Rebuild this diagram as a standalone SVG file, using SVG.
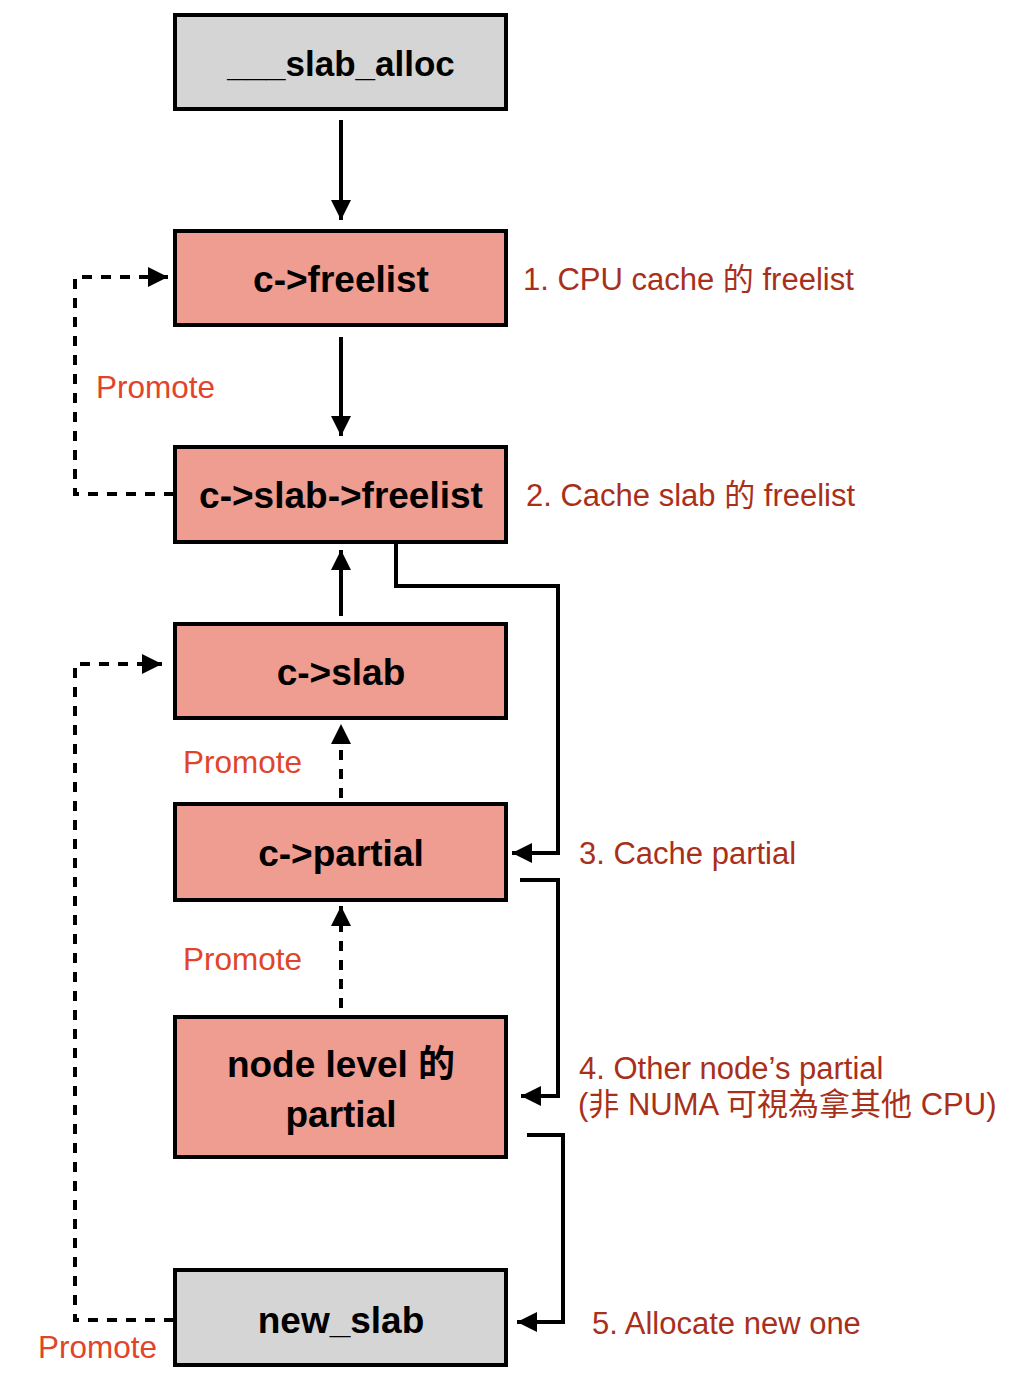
<svg xmlns="http://www.w3.org/2000/svg" width="1010" height="1380" viewBox="0 0 1010 1380">
<style>
.box{stroke:#000;stroke-width:4}
.gray{fill:#d5d5d5}
.red{fill:#ef9c91}
.nt{font-family:"Liberation Sans",Arial,"Noto Sans CJK TC",sans-serif;font-size:37px;font-weight:bold;fill:#000;text-anchor:middle}
.lbl{font-family:"Liberation Sans",Arial,"Noto Sans CJK TC",sans-serif;font-size:31px;fill:#a8301b}
.pr{font-family:"Liberation Sans",Arial,sans-serif;font-size:31.5px;fill:#e0452a}
.ln{fill:none;stroke:#000;stroke-width:4}
.dash{stroke-dasharray:10 9}
</style>
<defs>
<marker id="ah" markerUnits="userSpaceOnUse" markerWidth="21" markerHeight="21" refX="20" refY="10" orient="auto">
<path d="M0,0 L20,10 L0,20 z" fill="#000"/>
</marker>
</defs>
<rect width="1010" height="1380" fill="#fff"/>
<g id="connectors">
<path class="ln" d="M341,120 V220" marker-end="url(#ah)"/>
<path class="ln" d="M341,337 V436" marker-end="url(#ah)"/>
<path class="ln" d="M341,616 V550" marker-end="url(#ah)"/>
<path class="ln" d="M396,544 V586 H558 V853 H512" marker-end="url(#ah)"/>
<path class="ln" d="M520,880 H558 V1096 H521" marker-end="url(#ah)"/>
<path class="ln" d="M527,1135 H563 V1322 H517" marker-end="url(#ah)"/>
<path class="ln dash" d="M174,494 H75 V277 H168" marker-end="url(#ah)"/>
<path class="ln dash" d="M341,798 V724" marker-end="url(#ah)"/>
<path class="ln dash" d="M341,1008 V906" marker-end="url(#ah)"/>
<path class="ln dash" d="M174,1320 H75 V664 H162" marker-end="url(#ah)"/>
</g>
<g id="slab_alloc">
<rect class="box gray" x="175" y="15" width="331" height="94"/>
<text class="nt" x="341" y="76" style="font-size:35px">___slab_alloc</text>
</g>
<g id="c_freelist">
<rect class="box red" x="175" y="231" width="331" height="94"/>
<text class="nt" x="341" y="292">c-&gt;freelist</text>
<text class="lbl" x="523" y="290">1. CPU cache 的 freelist</text>
</g>
<g id="c_slab_freelist">
<rect class="box red" x="175" y="447" width="331" height="95"/>
<text class="nt" x="341" y="508">c-&gt;slab-&gt;freelist</text>
<text class="lbl" x="526" y="506">2. Cache slab 的 freelist</text>
</g>
<g id="c_slab">
<rect class="box red" x="175" y="624" width="331" height="94"/>
<text class="nt" x="341" y="685">c-&gt;slab</text>
</g>
<g id="c_partial">
<rect class="box red" x="175" y="804" width="331" height="96"/>
<text class="nt" x="341" y="866">c-&gt;partial</text>
<text class="lbl" x="579" y="864">3. Cache partial</text>
</g>
<g id="node_partial">
<rect class="box red" x="175" y="1017" width="331" height="140"/>
<text class="nt" x="341" y="1077">node level 的</text>
<text class="nt" x="341" y="1127">partial</text>
<text class="lbl" x="579" y="1079">4. Other node’s partial</text>
<text class="lbl" x="578" y="1115">(非 NUMA 可視為拿其他 CPU)</text>
</g>
<g id="new_slab">
<rect class="box gray" x="175" y="1270" width="331" height="95"/>
<text class="nt" x="341" y="1333">new_slab</text>
<text class="lbl" x="592" y="1334">5. Allocate new one</text>
</g>
<g id="promote_labels">
<text class="pr" x="96" y="398">Promote</text>
<text class="pr" x="183" y="773">Promote</text>
<text class="pr" x="183" y="970">Promote</text>
<text class="pr" x="38" y="1358">Promote</text>
</g>
</svg>
